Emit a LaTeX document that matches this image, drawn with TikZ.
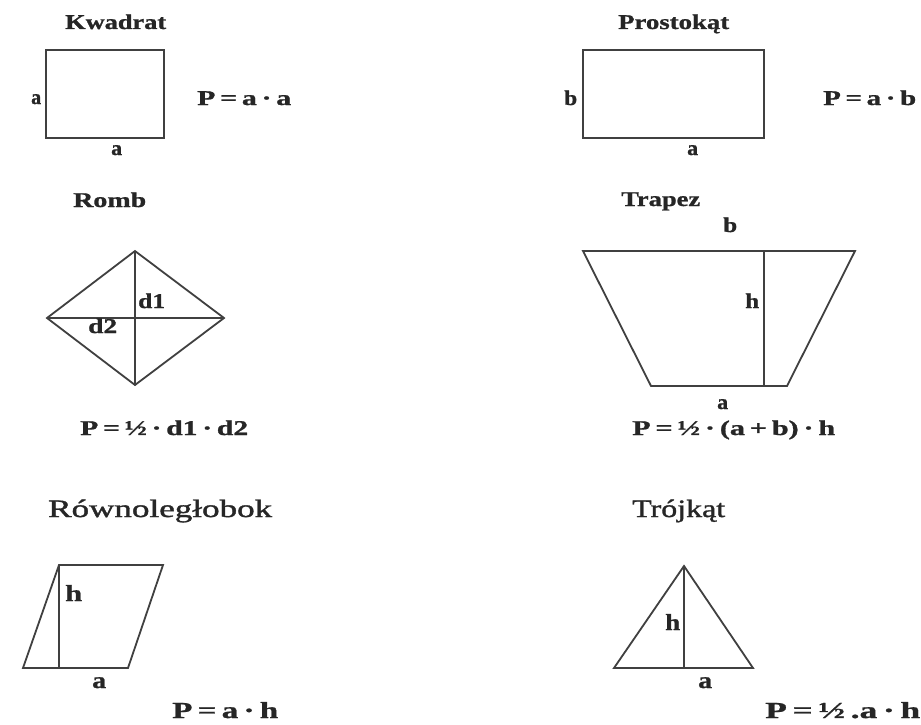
\documentclass[tikz,border=0pt]{standalone}
\usepackage{fontspec}
\usepackage{graphicx}
\setmainfont{Liberation Serif}
\newfontfamily\hvyfont[FakeBold=0.9]{Liberation Serif Bold}
\newfontfamily\midfont[FakeBold=1.2]{Liberation Serif}
\newcommand{\fitw}[2]{\resizebox{#1pt}{\height}{#2}}
\newcommand{\gp}{\hspace{0.16em}}
\begin{document}
\begin{tikzpicture}[x=1pt,y=-1pt,
  figline/.style={draw=black!75,line width=1.8pt,line join=miter},
  txt/.style={anchor=base west,inner sep=0pt,text=black!85},
  big/.style={txt,font=\fontsize{21}{21}\hvyfont},
  lab/.style={txt,font=\fontsize{21}{21}\hvyfont},
  low/.style={txt,font=\fontsize{25}{25}\midfont},
  lowb/.style={txt,font=\fontsize{23}{23}\hvyfont}]
\useasboundingbox[fill=white] (0,0) rectangle (921,725);

% ---------- Kwadrat ----------
\node[big] (tk) at (65,29) {\fitw{101}{Kwadrat}};
\coordinate (k1) at (46,50); \coordinate (k2) at (164,50);
\coordinate (k3) at (164,138); \coordinate (k4) at (46,138);
\draw[figline] (k1) -- (k2) -- (k3) -- (k4) -- cycle;
\node[lab] (ka1) at (31,104) {\fitw{10}{a}};
\node[lab] (ka2) at (111,155) {\fitw{11}{a}};
\node[big] (kf) at (197,105) {\fitw{94}{P\gp=\gp a\gp·\gp a}};

% ---------- Prostokat ----------
\node[big] (tp) at (618,29) {\fitw{111}{Prostokąt}};
\coordinate (p1) at (583,50); \coordinate (p2) at (764,50);
\coordinate (p3) at (764,138); \coordinate (p4) at (583,138);
\draw[figline] (p1) -- (p2) -- (p3) -- (p4) -- cycle;
\node[lab] (pb) at (564,105) {\fitw{13}{b}};
\node[lab] (pa) at (687,155) {\fitw{11}{a}};
\node[big] (pf) at (823,105) {\fitw{93}{P\gp=\gp a\gp·\gp b}};

% ---------- Romb ----------
\node[big] (tr) at (73,207) {\fitw{73}{Romb}};
\coordinate (r1) at (135,251); \coordinate (r2) at (224,318);
\coordinate (r3) at (135,385); \coordinate (r4) at (47,318);
\draw[figline] (r1) -- (r2) -- (r3) -- (r4) -- cycle;
\draw[figline] (r1) -- (r3);
\draw[figline] (r4) -- (r2);
\node[lab] (rd1) at (138,308) {\fitw{27}{d1}};
\node[lab] (rd2) at (88,333) {\fitw{29}{d2}};
\node[big] (rf) at (80,435) {\fitw{168}{P\gp=\gp½\gp·\gp d1\gp·\gp d2}};

% ---------- Trapez ----------
\node[big] (tt) at (621,206) {\fitw{79}{Trapez}};
\node[lab] (tb) at (723,232) {\fitw{14}{b}};
\coordinate (t1) at (583,251); \coordinate (t2) at (855,251);
\coordinate (t3) at (787,386); \coordinate (t4) at (651,386);
\coordinate (th1) at (764,251); \coordinate (th2) at (764,386);
\draw[figline] (t1) -- (t2) -- (t3) -- (t4) -- cycle;
\draw[figline] (th1) -- (th2);
\node[lab] (th) at (745,308) {\fitw{14}{h}};
\node[lab] (ta) at (717,409) {\fitw{11}{a}};
\node[big] (tf) at (632,435) {\fitw{203}{P\gp=\gp½\gp·\gp(a\gp+\gp b)\gp·\gp h}};

% ---------- Rownoleglobok ----------
\node[low] (tw) at (48,517) {\fitw{224}{Równoległobok}};
\coordinate (w1) at (59,565); \coordinate (w2) at (163,565);
\coordinate (w3) at (128,668); \coordinate (w4) at (23,668);
\coordinate (wh2) at (59,668);
\draw[figline] (w1) -- (w2) -- (w3) -- (w4) -- cycle;
\draw[figline] (w1) -- (wh2);
\node[lowb] (wh) at (65,601) {\fitw{17}{h}};
\node[lowb] (wa) at (92,688) {\fitw{14}{a}};
\node[lowb] (wf) at (172,718) {\fitw{106}{P\gp=\gp a\gp·\gp h}};

% ---------- Trojkat ----------
\node[low] (tj) at (632,517) {\fitw{93}{Trójkąt}};
\coordinate (j1) at (684,566); \coordinate (j2) at (753,668);
\coordinate (j3) at (614,668); \coordinate (jh2) at (684,668);
\draw[figline] (j1) -- (j2) -- (j3) -- cycle;
\draw[figline] (j1) -- (jh2);
\node[lowb] (jh) at (665,630) {\fitw{15}{h}};
\node[lowb] (ja) at (698,688) {\fitw{14}{a}};
\node[lowb] (jf) at (765,718) {\fitw{155}{P\gp=\gp½\gp.a\gp·\gp h}};
\end{tikzpicture}
\end{document}
